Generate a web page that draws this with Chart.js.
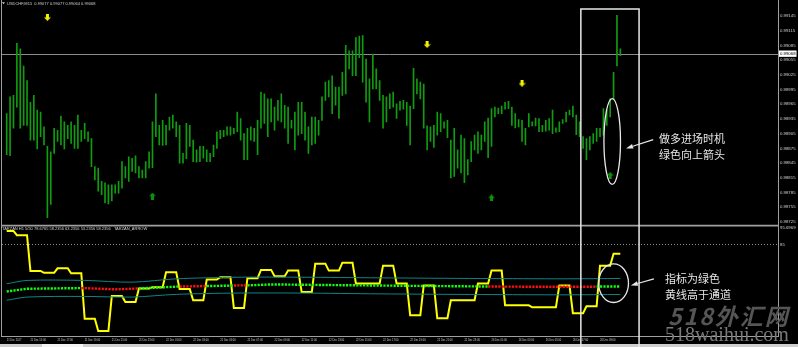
<!DOCTYPE html>
<html lang="zh">
<head>
  <meta charset="UTF-8">
  <title>USDCHF M15 TARZAN</title>
  <style>
    body {
      margin: 0;
      background: #000;
      width: 798px;
      height: 347px;
      overflow: hidden;
      position: relative;
      font-family: "Liberation Sans", Arial, sans-serif;
    }
    #chart { position: absolute; left: 0; top: 0; }
    .hdr {
      position: absolute;
      color: #d2d2d2;
      font-size: 4px;
      line-height: 5px;
      white-space: pre;
    }
    .note {
      position: absolute;
      color: #e6e6e6;
      font-family: "Noto Sans CJK SC", sans-serif;
      font-size: 11px;
      line-height: 16.3px;
      white-space: nowrap;
    }
    .wm1 {
      position: absolute;
      left: 668px;
      top: 298px;
      color: #555;
      font-family: "Noto Sans CJK SC", sans-serif;
      font-weight: bold;
      font-style: italic;
      font-size: 23px;
      letter-spacing: 2px;
      white-space: nowrap;
    }
    .wm2 {
      position: absolute;
      left: 665px;
      top: 323px;
      color: #7a7a7a;
      font-family: "Liberation Serif", serif;
      font-size: 20px;
      white-space: nowrap;
    }
  </style>
</head>
<body>
  <canvas id="chart" width="798" height="347"></canvas>
  <div class="hdr" style="left:7px; top:1px;">USDCHF,M15  0.99077 0.99077 0.99064 0.99068</div>
  <div class="hdr" style="left:2px; top:225.5px;">TARZAN H1 5/50 78.6765 58.2356 63.2356 53.2356 58.2356   TARZAN_ARROW</div>
  <div class="note" style="left:659px; top:129.5px;">做多进场时机<br>绿色向上箭头</div>
  <div class="note" style="left:665px; top:269.5px;">指标为绿色<br>黄线高于通道</div>
  <div class="wm1">518外汇网</div>
  <div class="wm2">518waihui.com</div>

  <script src="https://cdn.jsdelivr.net/npm/chart.js"></script>
  <script>
    // M15 bars, high / low
    const barHigh = [
      0.98946,0.98980,0.98983,0.99089,0.99078,0.99043,0.99013,0.98969,0.98983,0.98953,
      0.98949,0.98919,0.98879,0.98868,0.98916,0.98912,0.98941,0.98929,0.98922,0.98929,
      0.98922,0.98943,0.98912,0.98926,0.98909,0.98895,0.98838,0.98835,0.98808,0.98805,
      0.98801,0.98801,0.98801,0.98808,0.98848,0.98838,0.98858,0.98855,0.98860,0.98838,
      0.98831,0.98848,0.98868,0.98929,0.98986,0.98922,0.98932,0.98922,0.98939,0.98943,
      0.98929,0.98922,0.98865,0.98926,0.98922,0.98892,0.98872,0.98879,0.98879,0.98872,
      0.98865,0.98882,0.98909,0.98912,0.98912,0.98919,0.98919,0.98916,0.98949,0.98936,
      0.98905,0.98916,0.98919,0.98916,0.98932,0.98990,0.98986,0.98976,0.98976,0.98959,
      0.98973,0.98986,0.98963,0.98959,0.98932,0.98949,0.98969,0.98969,0.98949,0.98919,
      0.98939,0.98939,0.98932,0.98980,0.99010,0.99013,0.99023,0.99000,0.99000,0.99030,
      0.99085,0.99074,0.99074,0.99101,0.99104,0.99105,0.99057,0.99017,0.99067,0.99037,
      0.99013,0.98983,0.98980,0.98986,0.98990,0.98966,0.98971,0.98973,0.98969,0.98961,
      0.99038,0.99017,0.99010,0.99006,0.98921,0.98919,0.98922,0.98949,0.98946,0.98929,
      0.98932,0.98892,0.98916,0.98872,0.98902,0.98895,0.98852,0.98889,0.98902,0.98909,
      0.98902,0.98929,0.98937,0.98956,0.98959,0.98957,0.98961,0.98969,0.98971,0.98959,
      0.98946,0.98934,0.98932,0.98916,0.98946,0.98929,0.98937,0.98936,0.98922,0.98932,
      0.98936,0.98953,0.98917,0.98929,0.98934,0.98949,0.98953,0.98961,0.98943,0.98929,
      0.98899,0.98895,0.98899,0.98905,0.98916,0.98916,0.98956,0.98953,0.98976,0.99030,
      0.99146,0.99078
    ];
    const barLow = [
      0.98862,0.98860,0.98916,0.98959,0.98916,0.98922,0.98922,0.98892,0.98892,0.98874,
      0.98899,0.98882,0.98734,0.98761,0.98865,0.98889,0.98882,0.98874,0.98895,0.98885,
      0.98875,0.98875,0.98889,0.98895,0.98889,0.98838,0.98811,0.98788,0.98781,0.98764,
      0.98762,0.98768,0.98784,0.98784,0.98794,0.98815,0.98808,0.98828,0.98825,0.98815,
      0.98815,0.98815,0.98835,0.98836,0.98899,0.98882,0.98881,0.98882,0.98912,0.98916,
      0.98899,0.98845,0.98845,0.98854,0.98879,0.98848,0.98847,0.98848,0.98855,0.98848,
      0.98848,0.98858,0.98875,0.98895,0.98899,0.98902,0.98902,0.98905,0.98909,0.98892,
      0.98852,0.98852,0.98892,0.98889,0.98862,0.98916,0.98926,0.98899,0.98929,0.98912,
      0.98932,0.98929,0.98916,0.98885,0.98916,0.98872,0.98902,0.98905,0.98892,0.98865,
      0.98882,0.98885,0.98902,0.98932,0.98973,0.98980,0.98946,0.98963,0.98936,0.98983,
      0.98986,0.99037,0.99023,0.99023,0.99060,0.99010,0.98969,0.98929,0.98996,0.98996,
      0.98973,0.98916,0.98929,0.98956,0.98959,0.98936,0.98953,0.98955,0.98922,0.98882,
      0.98956,0.98986,0.98976,0.98916,0.98872,0.98889,0.98877,0.98902,0.98909,0.98916,
      0.98897,0.98815,0.98818,0.98835,0.98825,0.98805,0.98821,0.98848,0.98872,0.98865,
      0.98872,0.98889,0.98856,0.98879,0.98939,0.98946,0.98946,0.98955,0.98956,0.98922,
      0.98917,0.98919,0.98889,0.98882,0.98919,0.98921,0.98921,0.98909,0.98909,0.98910,
      0.98912,0.98905,0.98908,0.98909,0.98926,0.98929,0.98943,0.98939,0.98903,0.98899,
      0.98875,0.98852,0.98872,0.98885,0.98889,0.98899,0.98902,0.98922,0.98939,0.98976,
      0.99043,0.99064
    ];
    const bidPrice = 0.99068;

    // TARZAN_ARROW signals (bar index, price)
    const downArrowBars = [12, 124, 152];
    const downArrowPrice = [0.99142, 0.99087, 0.99008];
    const upArrowBars = [43, 143, 178];
    const upArrowPrice = [0.98778, 0.98774, 0.98820];

    // TARZAN H1 line, one value per hour (first hour has 3 M15 bars on screen)
    const tarzanH1 = [
      92.91, 90.25, 67.96, 66.72, 69.57, 66.47, 37.99, 30.37, 52.23, 48.52,
      57.00, 57.81, 67.09, 56.57, 49.57, 62.57, 63.99, 44.80, 63.38, 68.58,
      64.62, 68.15, 54.71, 72.48, 68.15, 73.10, 60.10, 60.10, 71.24, 60.10,
      40.28, 58.86, 38.42, 49.57, 49.57, 60.10, 68.15, 46.48, 46.48, 45.24,
      45.24, 58.86, 41.52, 45.86, 71.24, 78.68
    ];

    // middle line, read at these bars; side = colour of the stretch ending there
    const midBars = [0, 6, 22, 23, 32, 39, 40, 51, 52, 59, 60, 67, 68, 71, 72, 78, 87, 100, 120, 142, 143, 160, 174, 175, 181];
    const midVals = [55.1, 56.8, 57.2, 57.2, 56.4, 57.0, 57.1, 58.2, 58.2, 58.5, 58.5, 58.8, 58.9, 58.9, 59.0, 59.5, 59.3, 59.0, 58.6, 58.2, 58.2, 58.0, 58.1, 58.2, 58.24];
    const midSide = ['g','g','g','r','r','r','g','g','r','r','g','g','r','r','g','g','g','g','g','g','r','r','r','g','g'];

    // channel
    const bandBars = [0, 6, 23, 37, 50, 68, 87, 110, 140, 165, 181];
    const upperVals = [59.9, 62.0, 62.0, 60.9, 63.0, 64.0, 64.0, 63.6, 63.2, 63.0, 63.24];
    const lowerVals = [49.6, 51.6, 52.0, 51.6, 53.3, 54.1, 54.1, 53.6, 53.2, 53.0, 53.24];

    // axis ticks
    const priceTicks = [0.99145, 0.99115, 0.99085, 0.99055, 0.99025, 0.98995, 0.98965, 0.98935,
                        0.98905, 0.98875, 0.98845, 0.98815, 0.98785, 0.98755, 0.98725];
    const indTicks = [95.6969, 85];
    const timeTickBars = [0, 7, 15, 23, 31, 39, 47, 55, 63, 71, 79, 87, 95, 103, 111, 119, 127, 135, 143, 151, 159, 167, 175];
    const timeTickText = ['21 Dec 2017', '21 Dec 15:00', '21 Dec 17:00', '21 Dec 19:00', '21 Dec 21:00', '21 Dec 23:00',
                          '22 Dec 01:00', '22 Dec 03:00', '22 Dec 05:00', '22 Dec 07:00', '22 Dec 09:00', '22 Dec 11:00',
                          '22 Dec 13:00', '22 Dec 15:00', '22 Dec 17:00', '22 Dec 19:00', '22 Dec 21:00', '22 Dec 23:00',
                          '26 Dec 01:00', '26 Dec 03:00', '26 Dec 05:00', '26 Dec 07:00', '26 Dec 09:00'];

    const nBars = barHigh.length;
    const nSlots = 228;             // visible bar slots incl. the empty shift on the right
    const slots = Array.from({ length: nSlots }, (_, i) => i);

    // build per-bar tables for the library
    const ohlcRange = barHigh.map((h, i) => [barLow[i], h]);
    const yellow = barHigh.map((_, i) => tarzanH1[i < 3 ? 0 : Math.floor((i + 1) / 4)]);
    function sparse(bars, vals) {
      const out = new Array(nBars).fill(null);
      bars.forEach((b, k) => { out[b] = vals[k]; });
      return out;
    }
    const midSeries = sparse(midBars, midVals);
    const midColorAt = sparse(midBars, midSide);
    const upperSeries = sparse(bandBars, upperVals);
    const lowerSeries = sparse(bandBars, lowerVals);
    const downSeries = sparse(downArrowBars, downArrowPrice);
    const upSeries = sparse(upArrowBars, upArrowPrice);
    const tickLabelAt = {};
    timeTickBars.forEach((b, k) => { tickLabelAt[b] = timeTickText[k]; });

    function arrowImage(color, up) {
      const c = document.createElement('canvas');
      c.width = 7; c.height = 7;
      const g = c.getContext('2d');
      g.fillStyle = color;
      g.beginPath();
      if (up) {
        g.moveTo(3.5, 0); g.lineTo(7, 3.6); g.lineTo(5, 3.6); g.lineTo(5, 7);
        g.lineTo(2, 7); g.lineTo(2, 3.6); g.lineTo(0, 3.6);
      } else {
        g.moveTo(2, 0); g.lineTo(5, 0); g.lineTo(5, 3.4); g.lineTo(7, 3.4);
        g.lineTo(3.5, 7); g.lineTo(0, 3.4); g.lineTo(2, 3.4);
      }
      g.closePath();
      g.fill();
      return c;
    }

    const tickFont = { family: 'Liberation Sans', size: 4.3 };

    const frame = {
      id: 'frame',
      beforeDraw(chart) {
        const { ctx, scales } = chart;
        ctx.save();
        ctx.fillStyle = '#000';
        ctx.fillRect(0, 0, chart.width, chart.height);
        // bid line
        const yb = Math.round(scales.yP.getPixelForValue(bidPrice)) + 0.5;
        ctx.strokeStyle = '#8c8c8c';
        ctx.lineWidth = 1;
        ctx.beginPath(); ctx.moveTo(1, yb); ctx.lineTo(778, yb); ctx.stroke();
        // level 85 in the indicator window
        const y85 = Math.round(scales.yI.getPixelForValue(85)) + 0.5;
        ctx.setLineDash([1, 2]);
        ctx.beginPath(); ctx.moveTo(2, y85); ctx.lineTo(778, y85); ctx.stroke();
        ctx.setLineDash([]);
        ctx.restore();
      },
      afterDraw(chart) {
        const { ctx, scales } = chart;
        const x = scales.x, yP = scales.yP, yI = scales.yI;
        ctx.save();
        // window frame
        ctx.strokeStyle = '#a0a0a0';
        ctx.lineWidth = 1;
        ctx.beginPath();
        ctx.moveTo(1.5, 0); ctx.lineTo(1.5, 336);
        ctx.moveTo(778.5, 0); ctx.lineTo(778.5, 336);
        ctx.moveTo(1, 336.5); ctx.lineTo(779, 336.5);
        ctx.stroke();
        ctx.lineWidth = 1.6;
        ctx.beginPath(); ctx.moveTo(1, yP.bottom); ctx.lineTo(779, yP.bottom); ctx.stroke();
        // little menu triangle of the title
        ctx.fillStyle = '#d0d0d0';
        ctx.beginPath(); ctx.moveTo(2, 2.2); ctx.lineTo(5, 2.2); ctx.lineTo(3.5, 4.2); ctx.closePath(); ctx.fill();
        // tab strip
        ctx.fillStyle = '#cfcfcf';
        ctx.fillRect(0, 344, 798, 3);
        ctx.fillStyle = '#f4f4f4';
        ctx.fillRect(42, 344, 41, 3);

        // annotation: box around the entry, ellipses and pointers
        ctx.strokeStyle = '#e8e8e8';
        ctx.fillStyle = '#e8e8e8';
        ctx.lineWidth = 1.5;
        const bx0 = x.getPixelForValue(169.35), bx1 = x.getPixelForValue(186.52);
        const by0 = yP.getPixelForValue(0.99159);
        ctx.beginPath();
        ctx.moveTo(bx0, chart.height); ctx.lineTo(bx0, by0); ctx.lineTo(bx1, by0); ctx.lineTo(bx1, chart.height);
        ctx.stroke();

        const w = x.getPixelForValue(1) - x.getPixelForValue(0);
        function ellipse(cx, cy, rx, ry) {
          ctx.lineWidth = 1.3;
          ctx.beginPath();
          ctx.ellipse(cx, cy, rx, ry, 0, 0, Math.PI * 2);
          ctx.stroke();
        }
        function pointer(x0, y0, x1, y1) {
          const a = Math.atan2(y1 - y0, x1 - x0);
          const len = 7, half = 2.3;
          const bxp = x1 - len * Math.cos(a), byp = y1 - len * Math.sin(a);
          ctx.lineWidth = 1.2;
          ctx.beginPath(); ctx.moveTo(x0, y0); ctx.lineTo(bxp, byp); ctx.stroke();
          ctx.beginPath();
          ctx.moveTo(x1, y1);
          ctx.lineTo(bxp + half * Math.sin(a), byp - half * Math.cos(a));
          ctx.lineTo(bxp - half * Math.sin(a), byp + half * Math.cos(a));
          ctx.closePath(); ctx.fill();
        }
        const cyTop = yP.getPixelForValue(0.98889);
        ellipse(x.getPixelForValue(178.6), cyTop, 2.44 * w, cyTop - yP.getPixelForValue(0.98889 + 0.000874));
        pointer(x.getPixelForValue(190.7), yP.getPixelForValue(0.98893), x.getPixelForValue(182.7), yP.getPixelForValue(0.98875));
        const cyInd = yI.getPixelForValue(60.28);
        ellipse(x.getPixelForValue(179.0), cyInd, 4.4 * w, cyInd - yI.getPixelForValue(60.28 + 12.07));
        pointer(x.getPixelForValue(190.9), yI.getPixelForValue(63.0), x.getPixelForValue(184.1), yI.getPixelForValue(58.86));
        ctx.restore();
      }
    };

    new Chart(document.getElementById('chart'), {
      type: 'bar',
      data: {
        labels: slots,
        datasets: [
          {
            type: 'line', label: 'down', data: downSeries, yAxisID: 'yP',
            showLine: false, pointStyle: arrowImage('#f2f200', false), pointRadius: 3
          },
          {
            type: 'line', label: 'up', data: upSeries, yAxisID: 'yP',
            showLine: false, pointStyle: arrowImage('#0f8f0f', true), pointRadius: 3
          },
          {
            label: 'USDCHF', data: ohlcRange, yAxisID: 'yP',
            backgroundColor: '#109c10', barThickness: 1, borderWidth: 0, grouped: false
          },
          {
            type: 'line', label: 'upper', data: upperSeries, yAxisID: 'yI', spanGaps: true,
            borderColor: '#0d8585', borderWidth: 1, pointRadius: 0, tension: 0.3
          },
          {
            type: 'line', label: 'lower', data: lowerSeries, yAxisID: 'yI', spanGaps: true,
            borderColor: '#0d8585', borderWidth: 1, pointRadius: 0, tension: 0.3
          },
          {
            type: 'line', label: 'middle', data: midSeries, yAxisID: 'yI', spanGaps: true,
            borderWidth: 2.4, borderDash: [2.2, 1.2], pointRadius: 0,
            segment: { borderColor: c => midColorAt[c.p1DataIndex] === 'r' ? '#ff1010' : '#10ff10' }
          },
          {
            type: 'line', label: 'TARZAN', data: yellow, yAxisID: 'yI',
            borderColor: '#ffff00', borderWidth: 2, pointRadius: 0
          }
        ]
      },
      options: {
        responsive: false,
        devicePixelRatio: 1,
        animation: false,
        layout: { padding: { left: 1.5, top: 2, right: 0, bottom: 0 } },
        plugins: { legend: { display: false }, tooltip: { enabled: false }, title: { display: false } },
        scales: {
          x: {
            type: 'category',
            offset: true,
            grid: { display: false, drawTicks: false },
            border: { display: false },
            ticks: {
              autoSkip: false, maxRotation: 0, minRotation: 0, align: 'start', padding: 2.5,
              color: '#c8c8c8', font: { family: 'Liberation Sans', size: 2.6 },
              callback: (v, i) => tickLabelAt[i] || ''
            },
            afterFit: s => { s.height = 11; }
          },
          yP: {
            type: 'linear', position: 'right', stack: 'win', stackWeight: 2,
            min: 0.987176, max: 0.991672,
            grid: { display: false, drawTicks: false },
            border: { display: false },
            afterBuildTicks: s => { s.ticks = priceTicks.concat([bidPrice]).map(v => ({ value: v })); },
            ticks: {
              autoSkip: false, padding: 2, font: tickFont,
              color: c => c.tick && c.tick.value === bidPrice ? '#000' : '#cfcfcf',
              showLabelBackdrop: true,
              backdropColor: c => c.tick && c.tick.value === bidPrice ? '#ffffff' : 'rgba(0,0,0,0)',
              backdropPadding: { x: 1, y: 0.6 },
              callback: v => v.toFixed(5)
            },
            afterFit: s => { s.width = 20; }
          },
          yI: {
            type: 'linear', position: 'right', stack: 'win', stackWeight: 1,
            min: 27.28, max: 96.21,
            grid: { display: false, drawTicks: false },
            border: { display: false },
            afterBuildTicks: s => { s.ticks = indTicks.map(v => ({ value: v })); },
            ticks: {
              autoSkip: false, padding: 2, font: tickFont, color: '#cfcfcf', labelOffset: 1.5,
              callback: v => String(v)
            },
            afterFit: s => { s.width = 20; }
          }
        }
      },
      plugins: [frame]
    });
  </script>
</body>
</html>
